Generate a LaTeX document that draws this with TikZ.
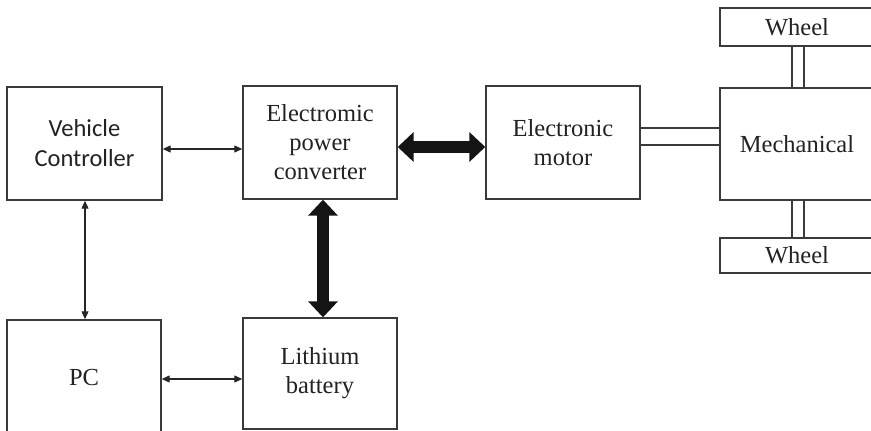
\documentclass[tikz,border=0pt]{standalone}
\usepackage{fontspec}
\setmainfont{Liberation Serif}
\newfontfamily\calfont{Carlito}
\usetikzlibrary{arrows.meta}
\definecolor{ln}{HTML}{3A3A3A}
\definecolor{tx}{HTML}{222222}
\tikzset{
  blk/.style={draw=ln, line width=1.4pt, fill=white, text=tx, align=center,
    inner sep=0pt, font=\fontsize{24.5}{29}\selectfont},
  thinarrow/.style={draw=black!85, line width=1.1pt, {Triangle[length=8pt,width=7pt]}-{Triangle[length=8pt,width=7pt]}},
  thickarrow/.style={draw=black!92, line width=12pt, {Triangle[length=16pt,width=29pt]}-{Triangle[length=16pt,width=29pt]}},
  shaft/.style={draw=ln, line width=1.3pt}
}
\begin{document}
\begin{tikzpicture}[x=1pt,y=-1pt]
\clip (0,0) rectangle (871,431);
\fill[white] (0,0) rectangle (871,431);
% boxes
\node[blk, minimum width=155pt, minimum height=113pt, font=\calfont\fontsize{24.5}{30}\selectfont] (vc) at (84.5,143.5) {Vehicle\\Controller};
\node[blk, minimum width=154pt, minimum height=113pt] (epc) at (320,142.5) {Electromic\\power\\converter};
\node[blk, minimum width=154pt, minimum height=113pt] (mot) at (563,142.5) {Electronic\\motor};
\node[blk, minimum width=154pt, minimum height=112pt] (mech) at (797,144) {Mechanical};
\node[blk, minimum width=154pt, minimum height=38pt] (wt) at (797,27) {Wheel};
\node[blk, minimum width=154pt, minimum height=35pt] (wb) at (797,255.5) {Wheel};
\node[blk, minimum width=154pt, minimum height=116pt] (pc) at (84,378) {PC};
\node[blk, minimum width=154pt, minimum height=111pt] (lb) at (320,373.5) {Lithium\\battery};
% shafts
\draw[shaft] (mot.east |- 0,128) -- (mech.west |- 0,128);
\draw[shaft] (mot.east |- 0,145) -- (mech.west |- 0,145);
\draw[shaft] (wt.south -| 792,0) -- (mech.north -| 792,0);
\draw[shaft] (wt.south -| 804,0) -- (mech.north -| 804,0);
\draw[shaft] (mech.south -| 792,0) -- (wb.north -| 792,0);
\draw[shaft] (mech.south -| 804,0) -- (wb.north -| 804,0);
% thin arrows
\draw[thinarrow] (vc.east |- 0,149) -- (epc.west |- 0,149);
\draw[thinarrow] (vc.south -| 85,0) -- (pc.north -| 85,0);
\draw[thinarrow] (pc.east |- 0,379) -- (lb.west |- 0,379);
% thick arrows
\draw[thickarrow] (epc.east |- 0,147) -- (mot.west |- 0,147);
\draw[thickarrow] (epc.south -| 323,0) -- (lb.north -| 323,0);
\end{tikzpicture}
\end{document}
